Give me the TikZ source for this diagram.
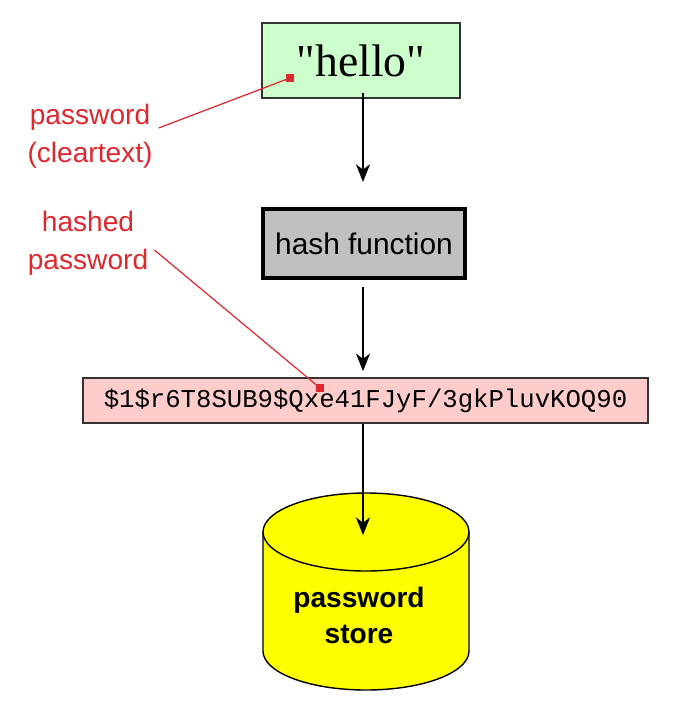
\documentclass[tikz,border=0pt]{standalone}
\usepackage{fontspec}
\setmainfont{Liberation Serif}
\setsansfont{Liberation Sans}
\setmonofont{Liberation Mono}
\usepackage{tikz}
\usetikzlibrary{arrows.meta}
\usetikzlibrary{positioning}

\definecolor{boxgreen}{RGB}{204,255,204}
\definecolor{boxgray}{RGB}{192,192,192}
\definecolor{boxpink}{RGB}{255,204,204}
\definecolor{storeyellow}{RGB}{255,255,0}
\definecolor{labelred}{RGB}{222,40,48}

\tikzset{
  flow/.style={black,thick,-{Stealth[length=10pt,width=8pt,inset=3pt]}},
  leader/.style={labelred,line width=0.7pt},
  redlabel/.style={font=\sffamily\fontsize{16}{21.5}\selectfont,text=labelred,align=center},
  reddot/.style={fill=labelred,inner sep=0pt,minimum size=4pt},
}

\begin{document}
\begin{tikzpicture}
\useasboundingbox (0,0) rectangle (13.62,-14.42);
% boxes
\node[draw=black!80,line width=1.2pt,fill=boxgreen,minimum width=3.96cm,minimum height=1.5cm,font=\fontsize{26}{30}\selectfont] (hello) at (7.22,-1.21) {\textquotedbl hello\textquotedbl};
\node[draw=black,line width=2.4pt,fill=boxgray,minimum width=4.04cm,minimum height=1.38cm,font=\sffamily\fontsize{17}{20}\selectfont] (hash) at (7.28,-4.87) {hash function};
\node[draw=black!80,line width=1pt,fill=boxpink,minimum width=11.3cm,minimum height=0.9cm,font=\ttfamily\fontsize{14.6}{17}\selectfont] (digest) at (7.31,-8.01) {\$1\$r6T8SUB9\$Qxe41FJyF/3gkPluvKOQ90};

% password store
\draw[fill=storeyellow,line width=0.8pt] (5.26,-10.64) -- (5.26,-13.02) arc[start angle=180,end angle=360,x radius=2.06cm,y radius=0.78cm] -- (9.38,-10.64);
\draw[fill=storeyellow,line width=0.8pt] (7.32,-10.64) ellipse[x radius=2.06cm,y radius=0.78cm];
\coordinate (storetop) at (7.26,-10.7);
\node[font=\sffamily\bfseries\fontsize{16}{20.5}\selectfont,align=center] (store) at (7.18,-12.3) {password\\store};

% arrows
\draw[flow,shorten <=-0.12cm,shorten >=0.5cm] (hello.south -| 7.26,0) -- (hash.north -| 7.26,0);
\draw[flow,shorten <=0.14cm,shorten >=0.12cm] (hash.south -| 7.26,0) -- (digest.north -| 7.26,0);
\draw[flow] (digest.south -| 7.26,0) -- (storetop);

% labels
\node[redlabel] (clearlbl) at (1.8,-2.72) {password\\(cleartext)};
\node[redlabel] (hashlbl) at (1.76,-4.86) {hashed\\password};
\node[reddot] (cleardot) at (5.8,-1.56) {};
\node[reddot] (hashdot) at (6.4,-7.76) {};
\draw[leader] ([yshift=0.16cm]clearlbl.east) -- (cleardot);
\draw[leader] ([yshift=-0.14cm]hashlbl.east) -- (hashdot);

\end{tikzpicture}
\end{document}
